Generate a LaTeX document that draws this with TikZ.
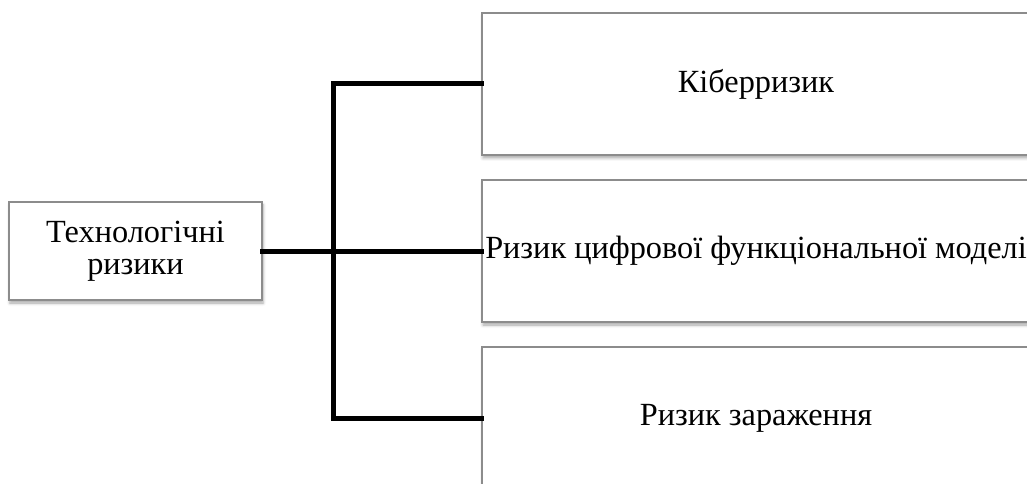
\documentclass[tikz,border=0pt]{standalone}
\usepackage{fontspec}
\setmainfont{Liberation Serif}
\usetikzlibrary{shadows.blur}
\begin{document}
\begin{tikzpicture}[x=1pt,y=1pt,
  riskbox/.style={draw=black!45, line width=1.2pt, fill=white, inner sep=0pt,
    blur shadow={shadow xshift=1pt, shadow yshift=-3pt, shadow blur radius=3pt, shadow opacity=35},
    font=\fontsize{32.3}{32}\selectfont, align=center},
  link/.style={line width=5pt, line join=miter, line cap=rect}]
\useasboundingbox (0,0) rectangle (1027,483);
\node[riskbox, minimum width=253pt, minimum height=98pt] (root) at (135.5,232) {Технологічні\\ризики};
\node[riskbox, minimum width=548pt, minimum height=142pt] (cyber) at (756,399) {Кіберризик};
\node[riskbox, minimum width=548pt, minimum height=142pt] (model) at (756,232) {Ризик цифрової функціональної моделі};
\node[riskbox, minimum width=548pt, minimum height=142pt] (infect) at (756,65) {Ризик зараження};
\coordinate (hub) at (333,232);
\draw[link] (root.east) -- (hub);
\draw[link] (hub) -- (model.west);
\draw[link] (cyber.west) -| (hub) |- (infect.west);
\end{tikzpicture}
\end{document}
